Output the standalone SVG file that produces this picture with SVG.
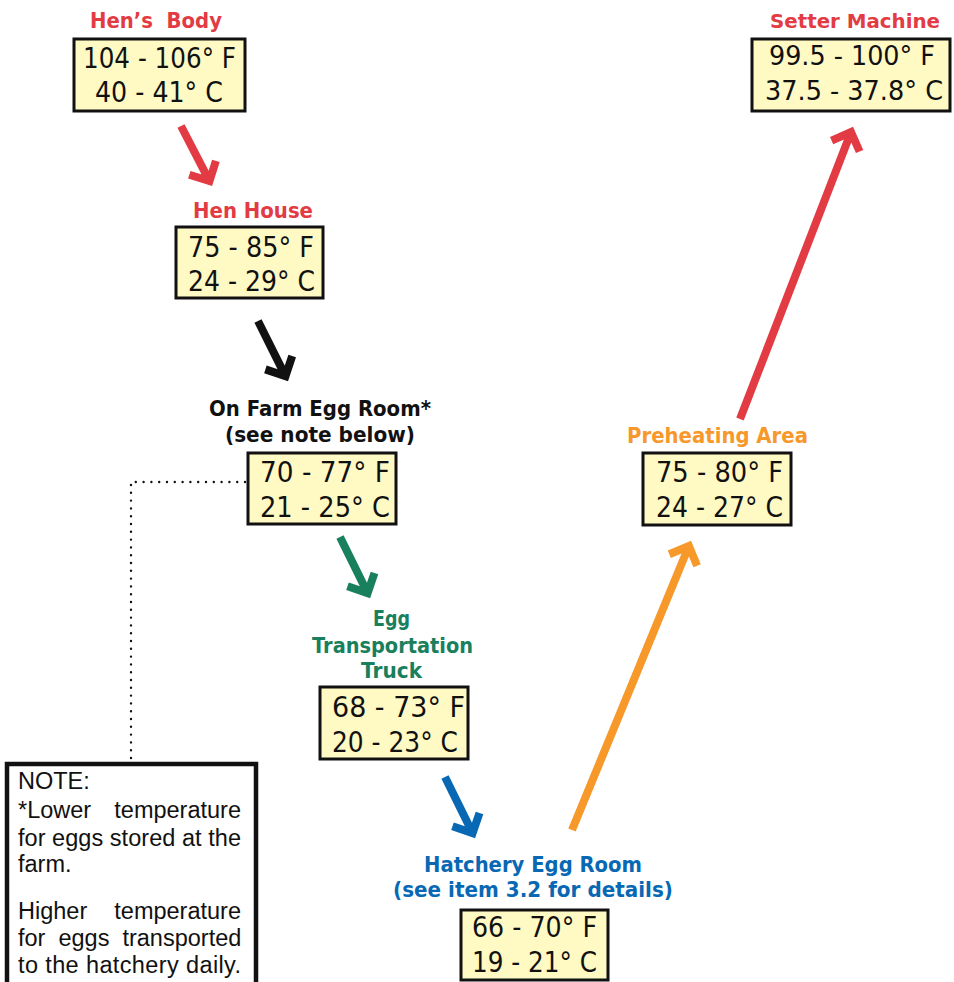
<svg xmlns="http://www.w3.org/2000/svg" width="954" height="982" viewBox="0 0 954 982">
<style>
.box{fill:#fff9c4;stroke:#111;stroke-width:3}
.val{font-family:"DejaVu Sans","Liberation Sans",sans-serif;font-size:28px;fill:#111}
.lbl{font-family:"DejaVu Sans","Liberation Sans",sans-serif;font-size:22px;font-weight:bold;text-anchor:middle}
.red{fill:#e33b43}.green{fill:#18805c}.blue{fill:#0868b4}.orange{fill:#f7982a}.black{fill:#111}
.arr{fill:none;stroke-width:8;stroke-linejoin:miter;stroke-linecap:butt}
.note{font-family:"Liberation Sans",Arial,sans-serif;font-size:23.5px;fill:#111}
</style>
<rect width="954" height="982" fill="#fff"/>
<g id="connectors">
<path class="arr" stroke="#e33b43" d="M181,126 L209.5,181.1 M215.9,160.9 L209.5,181.1 L189.3,174.7"/>
<path class="arr" stroke="#111" d="M258,321 L285.5,376.1 M292.2,356 L285.5,376.1 L265.4,369.4"/>
<path class="arr" stroke="#18805c" d="M340,537 L367.6,593.1 M374.5,573 L367.6,593.1 L347.5,586.2"/>
<path class="arr" stroke="#0868b4" d="M445,777 L472.6,833.1 M479.5,813 L472.6,833.1 L452.5,826.2"/>
<path class="arr" stroke="#f7982a" d="M572,830 L688.9,546.1 M697.1,565.7 L688.9,546.1 L669.3,554.3"/>
<path class="arr" stroke="#e33b43" d="M740,419 L851,132.1 M859.6,151.5 L851,132.1 L831.6,140.7"/>
<path fill="none" stroke="#111" stroke-width="2.4" stroke-linecap="round" stroke-dasharray="0 7.8" d="M245,482 H131 V762"/>
</g>
<g id="hens-body">
<text class="lbl red" x="156" y="28" textLength="132" lengthAdjust="spacingAndGlyphs" xml:space="preserve">Hen’s  Body</text>
<rect class="box" x="74" y="39" width="171" height="72"/>
<text class="val" x="83" y="68" textLength="153" lengthAdjust="spacingAndGlyphs">104 - 106° F</text>
<text class="val" x="95" y="102" textLength="128" lengthAdjust="spacingAndGlyphs">40 - 41° C</text>
</g>
<g id="hen-house">
<text class="lbl red" x="253" y="218" textLength="120" lengthAdjust="spacingAndGlyphs">Hen House</text>
<rect class="box" x="176" y="227" width="147" height="71"/>
<text class="val" x="188" y="257" textLength="126" lengthAdjust="spacingAndGlyphs">75 - 85° F</text>
<text class="val" x="188" y="291" textLength="127" lengthAdjust="spacingAndGlyphs">24 - 29° C</text>
</g>
<g id="on-farm-egg-room">
<text class="lbl black" x="320" y="416" textLength="222" lengthAdjust="spacingAndGlyphs">On Farm Egg Room*</text>
<text class="lbl black" x="320" y="442" textLength="190" lengthAdjust="spacingAndGlyphs">(see note below)</text>
<rect class="box" x="248" y="453" width="148" height="71"/>
<text class="val" x="260" y="482" textLength="130" lengthAdjust="spacingAndGlyphs">70 - 77° F</text>
<text class="val" x="260" y="517" textLength="130" lengthAdjust="spacingAndGlyphs">21 - 25° C</text>
</g>
<g id="egg-transportation-truck">
<text class="lbl green" x="391.5" y="626" textLength="37" lengthAdjust="spacingAndGlyphs">Egg</text>
<text class="lbl green" x="392.5" y="653" textLength="161" lengthAdjust="spacingAndGlyphs">Transportation</text>
<text class="lbl green" x="391.5" y="678" textLength="61" lengthAdjust="spacingAndGlyphs">Truck</text>
<rect class="box" x="320" y="687" width="148" height="72"/>
<text class="val" x="332" y="717" textLength="133" lengthAdjust="spacingAndGlyphs">68 - 73° F</text>
<text class="val" x="332" y="752" textLength="126" lengthAdjust="spacingAndGlyphs">20 - 23° C</text>
</g>
<g id="hatchery-egg-room">
<text class="lbl blue" x="533" y="872" textLength="218" lengthAdjust="spacingAndGlyphs">Hatchery Egg Room</text>
<text class="lbl blue" x="533" y="897" textLength="280" lengthAdjust="spacingAndGlyphs">(see item 3.2 for details)</text>
<rect class="box" x="461" y="910" width="147" height="70"/>
<text class="val" x="472" y="937" textLength="125" lengthAdjust="spacingAndGlyphs">66 - 70° F</text>
<text class="val" x="472" y="972" textLength="125" lengthAdjust="spacingAndGlyphs">19 - 21° C</text>
</g>
<g id="preheating-area">
<text class="lbl orange" x="717.5" y="443" textLength="181" lengthAdjust="spacingAndGlyphs">Preheating Area</text>
<rect class="box" x="643" y="453" width="148" height="72"/>
<text class="val" x="656" y="482" textLength="127" lengthAdjust="spacingAndGlyphs">75 - 80° F</text>
<text class="val" x="656" y="517" textLength="127" lengthAdjust="spacingAndGlyphs">24 - 27° C</text>
</g>
<g id="setter-machine">
<text class="lbl red" x="855" y="28" style="font-size:20px" textLength="170" lengthAdjust="spacingAndGlyphs">Setter Machine</text>
<rect class="box" x="752" y="39" width="198" height="72"/>
<text class="val" x="769" y="65" style="font-size:26px" textLength="166" lengthAdjust="spacingAndGlyphs">99.5 - 100° F</text>
<text class="val" x="765" y="100" style="font-size:26px" textLength="178" lengthAdjust="spacingAndGlyphs">37.5 - 37.8° C</text>
</g>
<g id="note">
<path fill="#fff" stroke="#111" stroke-width="4.5" d="M7,990 V764 H256 V990"/>
<text class="note" x="18" y="789">NOTE:</text>
<text class="note" x="18" y="818">*Lower</text>
<text class="note" x="241" y="818" text-anchor="end">temperature</text>
<text class="note" x="18" y="846" textLength="223" lengthAdjust="spacing">for eggs stored at the</text>
<text class="note" x="18" y="872">farm.</text>
<text class="note" x="18" y="919">Higher</text>
<text class="note" x="241" y="919" text-anchor="end">temperature</text>
<text class="note" x="18" y="946" word-spacing="6.5">for eggs transported</text>
<text class="note" x="18" y="973" textLength="223" lengthAdjust="spacing">to the hatchery daily.</text>
</g>
</svg>
